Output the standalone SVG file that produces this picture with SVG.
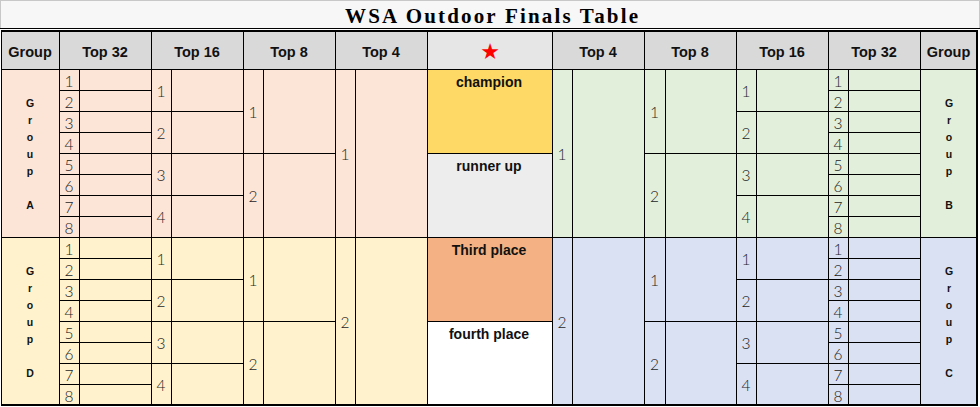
<svg xmlns="http://www.w3.org/2000/svg" width="980" height="407" viewBox="0 0 980 407">
<style>
.grid{fill:none;stroke:#000;stroke-width:1;shape-rendering:crispEdges}
.outer{fill:none;stroke:#000;stroke-width:1.5;shape-rendering:crispEdges}
.h{font-family:"Liberation Sans",Arial,sans-serif;font-weight:bold;font-size:14.5px;fill:#111;text-anchor:middle}
.n{font-family:Lato,"Liberation Sans",sans-serif;font-weight:300;font-size:15.5px;fill:#1e1e1e;text-anchor:middle}
.gl{font-family:"Liberation Sans",Arial,sans-serif;font-weight:bold;font-size:10.5px;fill:#111;text-anchor:middle}
.c{font-family:"Liberation Sans",Arial,sans-serif;font-weight:bold;font-size:14px;fill:#111;text-anchor:middle}
</style>
<rect width="980" height="407" fill="#ffffff"/>
<g id="title">
<rect x="0.5" y="0.5" width="979" height="28" fill="#f7f7f7" stroke="#c8c8c8" stroke-width="1"/>
<line x1="0" y1="28.5" x2="980" y2="28.5" stroke="#000" stroke-width="1"/>
<text x="491.5" y="22.7" font-family="'Liberation Serif','Times New Roman',serif" font-weight="bold" font-size="21" fill="#000" text-anchor="middle" textLength="293" lengthAdjust="spacing">WSA Outdoor Finals Table</text>
</g>
<g id="fills">
<rect x="1.5" y="31" width="975.5" height="38" fill="#d9d9d9"/>
<rect x="427" y="31" width="125" height="38" fill="#e7e6e6"/>
<rect x="1.5" y="69" width="425.5" height="168" fill="#fce4d6"/>
<rect x="1.5" y="237" width="425.5" height="168" fill="#fff2cc"/>
<rect x="552" y="69" width="425" height="168" fill="#e2efda"/>
<rect x="552" y="237" width="425" height="168" fill="#d9e1f2"/>
<rect x="427" y="69" width="125" height="84" fill="#ffd966"/>
<rect x="427" y="153" width="125" height="84" fill="#ededed"/>
<rect x="427" y="237" width="125" height="84" fill="#f4b183"/>
<rect x="427" y="321" width="125" height="84" fill="#ffffff"/>
</g>
<g id="gridlines">
<path class="grid" d="M59 31V405M151 31V405M243 31V405M335 31V405M427 31V405M552 31V405M644 31V405M736 31V405M828 31V405M920 31V405
M79 69V405M171 69V405M263 69V405M355 69V405M572 69V405M665 69V405M756 69V405M848 69V405
M1 69H977M1 237H977
M59 90H151M828 90H920
M59 111H243M736 111H920
M59 132H151M828 132H920
M59 153H335M427 153H552M644 153H920
M59 174H151M828 174H920
M59 195H243M736 195H920
M59 216H151M828 216H920
M59 258H151M828 258H920
M59 279H243M736 279H920
M59 300H151M828 300H920
M59 321H335M427 321H552M644 321H920
M59 342H151M828 342H920
M59 363H243M736 363H920
M59 384H151M828 384H920"/>
<rect class="outer" x="1.5" y="31" width="975.5" height="374"/>
</g>
<g id="header">
<text class="h" x="30" y="56.5">Group</text>
<text class="h" x="105" y="56.5">Top 32</text>
<text class="h" x="197" y="56.5">Top 16</text>
<text class="h" x="289" y="56.5">Top 8</text>
<text class="h" x="381" y="56.5">Top 4</text>
<text x="490" y="58.5" font-family="'DejaVu Sans',sans-serif" font-size="22" fill="#ff0000" text-anchor="middle">★</text>
<text class="h" x="598" y="56.5">Top 4</text>
<text class="h" x="690" y="56.5">Top 8</text>
<text class="h" x="782" y="56.5">Top 16</text>
<text class="h" x="874" y="56.5">Top 32</text>
<text class="h" x="948.5" y="56.5">Group</text>
</g>
<g id="group-a">
<text class="gl" x="30" y="106.5">G</text><text class="gl" x="30" y="123.5">r</text><text class="gl" x="30" y="140.5">o</text><text class="gl" x="30" y="157.5">u</text><text class="gl" x="30" y="174.5">p</text><text class="gl" x="30" y="208.5">A</text>
<text class="n" x="69" y="87">1</text><text class="n" x="69" y="108">2</text><text class="n" x="69" y="129">3</text><text class="n" x="69" y="150">4</text><text class="n" x="69" y="171">5</text><text class="n" x="69" y="192">6</text><text class="n" x="69" y="213">7</text><text class="n" x="69" y="234">8</text>
<text class="n" x="161" y="97">1</text><text class="n" x="161" y="139">2</text><text class="n" x="161" y="181">3</text><text class="n" x="161" y="223">4</text>
<text class="n" x="253" y="118">1</text><text class="n" x="253" y="202">2</text>
<text class="n" x="345" y="160">1</text>
</g>
<g id="group-d">
<text class="gl" x="30" y="274.5">G</text><text class="gl" x="30" y="291.5">r</text><text class="gl" x="30" y="308.5">o</text><text class="gl" x="30" y="325.5">u</text><text class="gl" x="30" y="342.5">p</text><text class="gl" x="30" y="376.5">D</text>
<text class="n" x="69" y="255">1</text><text class="n" x="69" y="276">2</text><text class="n" x="69" y="297">3</text><text class="n" x="69" y="318">4</text><text class="n" x="69" y="339">5</text><text class="n" x="69" y="360">6</text><text class="n" x="69" y="381">7</text><text class="n" x="69" y="402">8</text>
<text class="n" x="161" y="265">1</text><text class="n" x="161" y="307">2</text><text class="n" x="161" y="349">3</text><text class="n" x="161" y="391">4</text>
<text class="n" x="253" y="286">1</text><text class="n" x="253" y="370">2</text>
<text class="n" x="345" y="328">2</text>
</g>
<g id="places">
<text class="c" x="489" y="87">champion</text>
<text class="c" x="489" y="171">runner up</text>
<text class="c" x="489" y="254.5">Third place</text>
<text class="c" x="489" y="338.5">fourth place</text>
</g>
<g id="group-b">
<text class="gl" x="949" y="106.5">G</text><text class="gl" x="949" y="123.5">r</text><text class="gl" x="949" y="140.5">o</text><text class="gl" x="949" y="157.5">u</text><text class="gl" x="949" y="174.5">p</text><text class="gl" x="949" y="208.5">B</text>
<text class="n" x="838" y="87">1</text><text class="n" x="838" y="108">2</text><text class="n" x="838" y="129">3</text><text class="n" x="838" y="150">4</text><text class="n" x="838" y="171">5</text><text class="n" x="838" y="192">6</text><text class="n" x="838" y="213">7</text><text class="n" x="838" y="234">8</text>
<text class="n" x="746" y="97">1</text><text class="n" x="746" y="139">2</text><text class="n" x="746" y="181">3</text><text class="n" x="746" y="223">4</text>
<text class="n" x="654.5" y="118">1</text><text class="n" x="654.5" y="202">2</text>
<text class="n" x="562" y="160">1</text>
</g>
<g id="group-c">
<text class="gl" x="949" y="274.5">G</text><text class="gl" x="949" y="291.5">r</text><text class="gl" x="949" y="308.5">o</text><text class="gl" x="949" y="325.5">u</text><text class="gl" x="949" y="342.5">p</text><text class="gl" x="949" y="376.5">C</text>
<text class="n" x="838" y="255">1</text><text class="n" x="838" y="276">2</text><text class="n" x="838" y="297">3</text><text class="n" x="838" y="318">4</text><text class="n" x="838" y="339">5</text><text class="n" x="838" y="360">6</text><text class="n" x="838" y="381">7</text><text class="n" x="838" y="402">8</text>
<text class="n" x="746" y="265">1</text><text class="n" x="746" y="307">2</text><text class="n" x="746" y="349">3</text><text class="n" x="746" y="391">4</text>
<text class="n" x="654.5" y="286">1</text><text class="n" x="654.5" y="370">2</text>
<text class="n" x="562" y="328">2</text>
</g>
</svg>
